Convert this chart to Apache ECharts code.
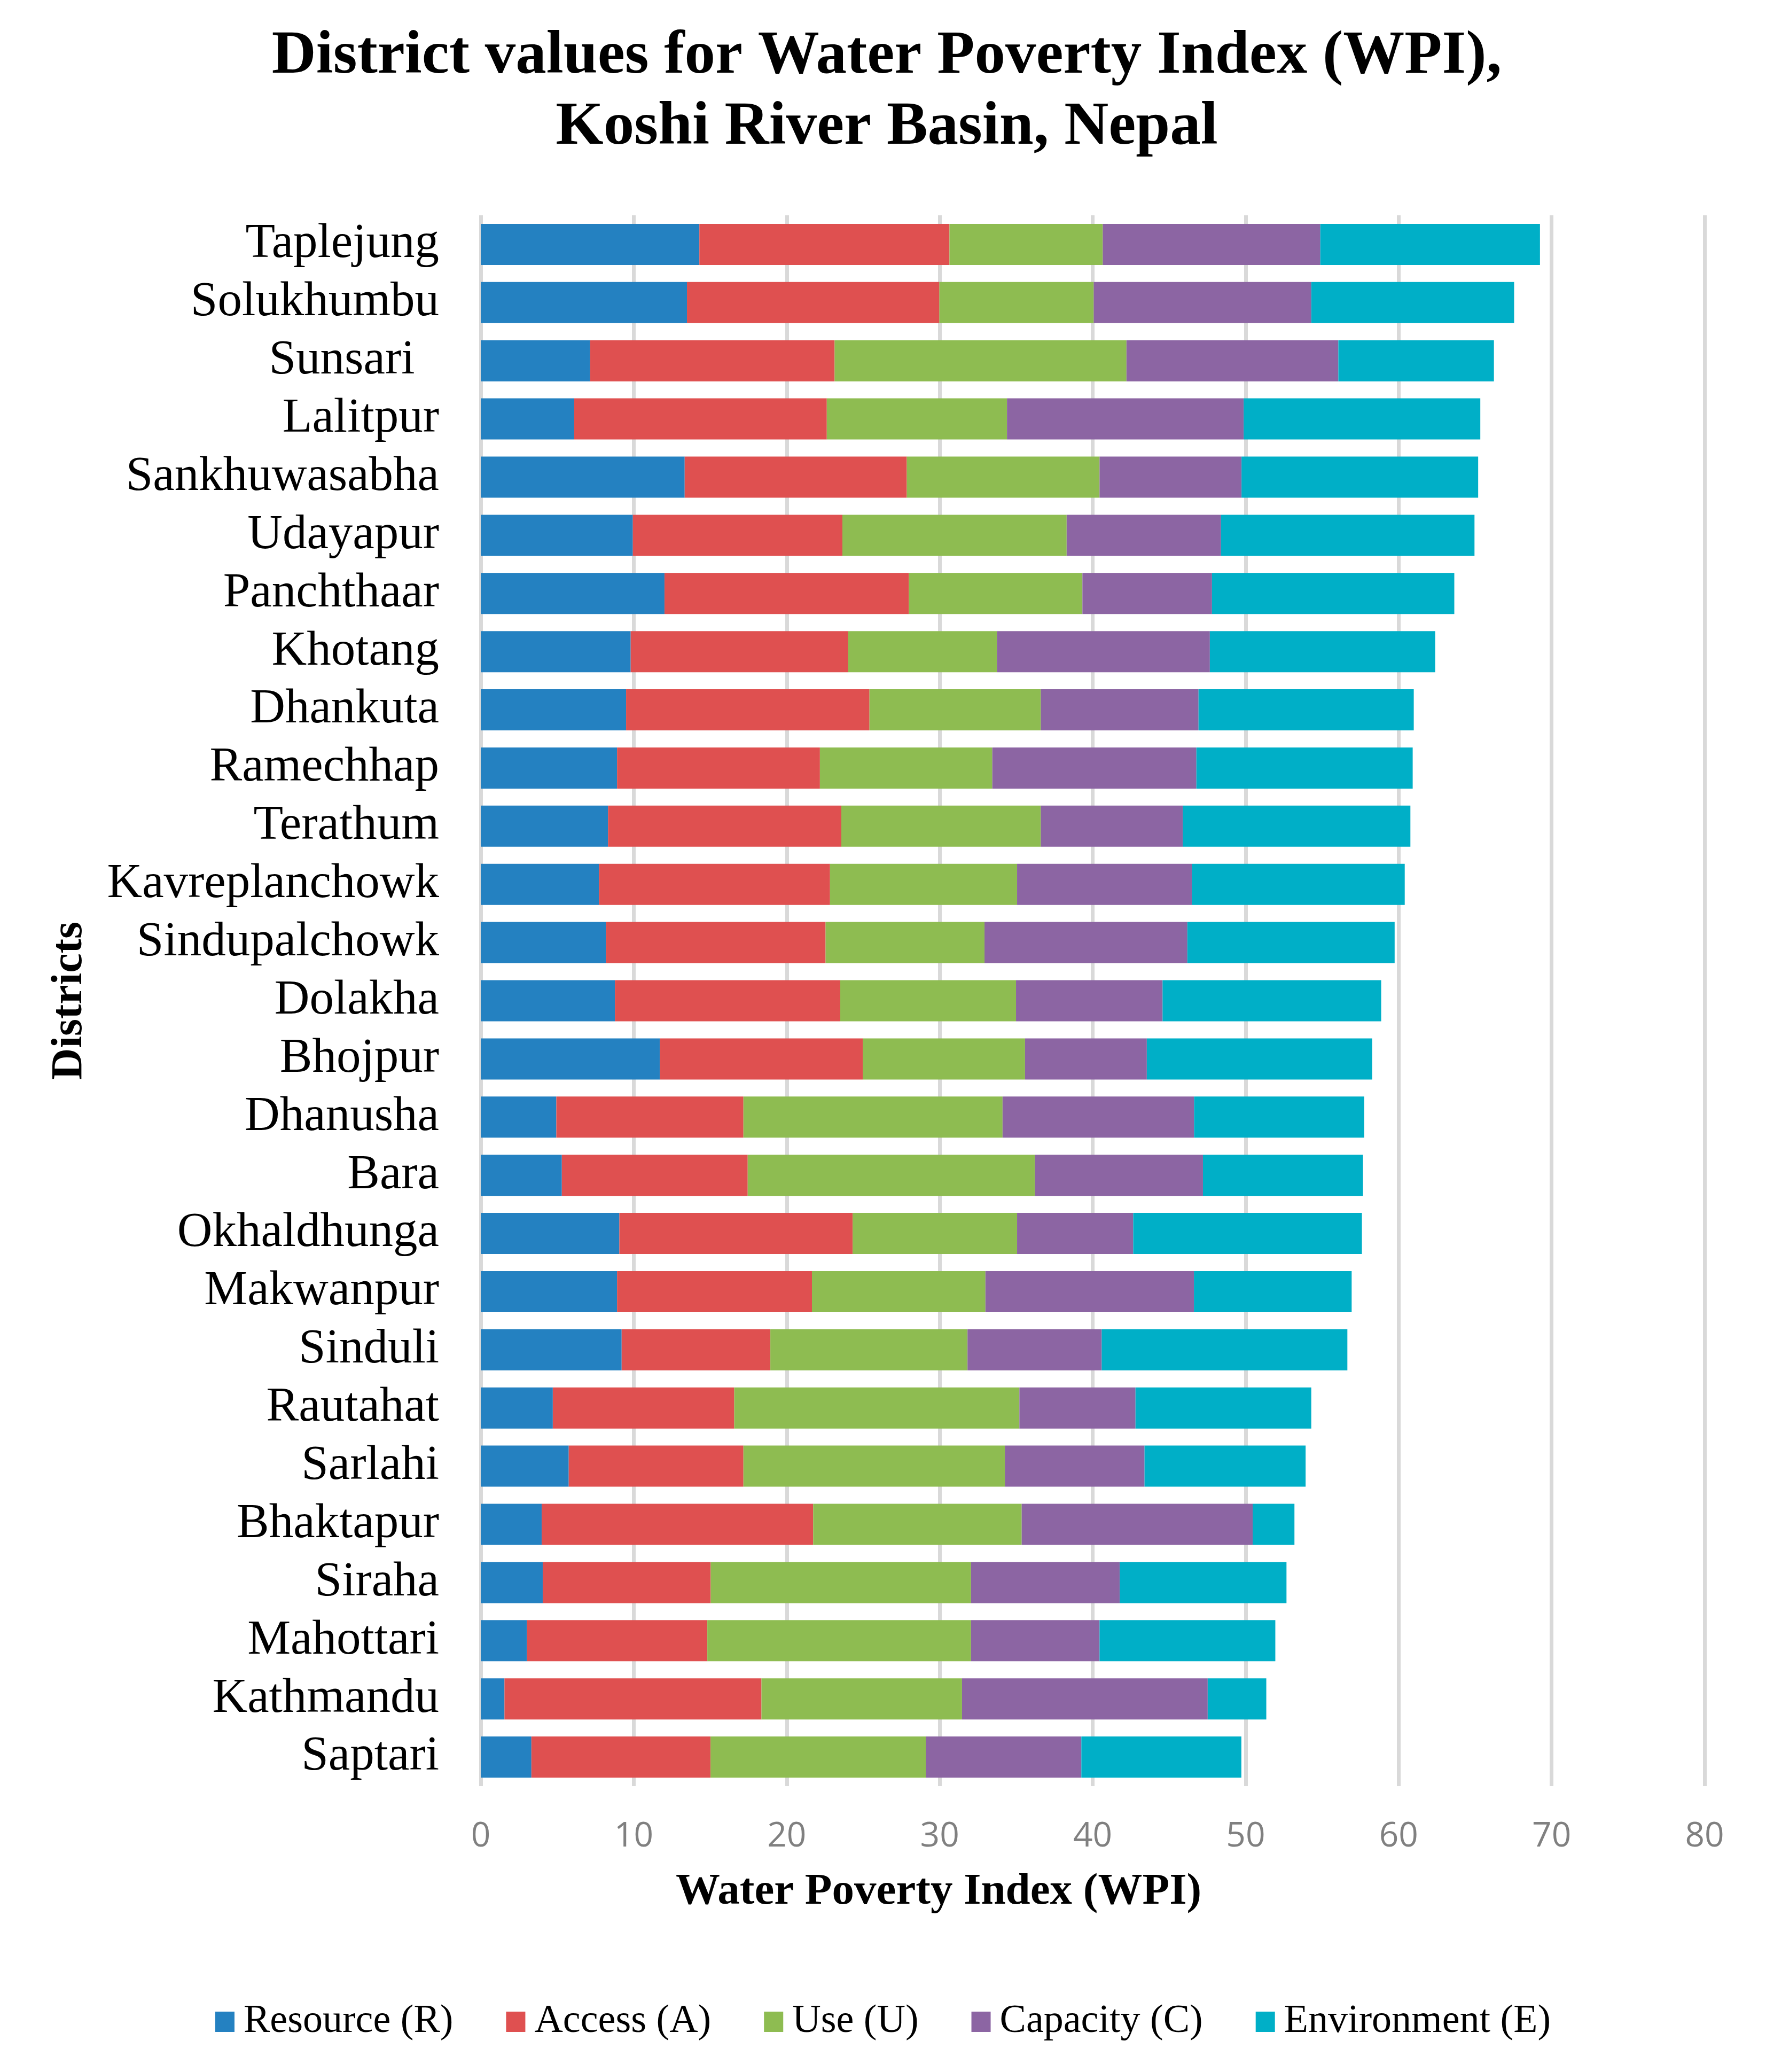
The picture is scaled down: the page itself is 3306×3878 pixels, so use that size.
<!DOCTYPE html>
<html>
<head>
<meta charset="utf-8">
<script src="https://cdn.jsdelivr.net/npm/echarts@6/dist/echarts.min.js"></script>
<style>
html,body{margin:0;padding:0;background:#fff;}
#chart{width:3306px;height:3878px;}
</style>
</head>
<body>
<div id="chart"></div>
<script>
const districts = ["Taplejung","Solukhumbu","Sunsari  ","Lalitpur","Sankhuwasabha","Udayapur","Panchthaar","Khotang","Dhankuta","Ramechhap","Terathum","Kavreplanchowk","Sindupalchowk","Dolakha","Bhojpur","Dhanusha","Bara","Okhaldhunga","Makwanpur","Sinduli","Rautahat","Sarlahi","Bhaktapur","Siraha","Mahottari","Kathmandu","Saptari"];
const resource = [14.29,13.48,7.15,6.11,13.33,9.94,12.01,9.80,9.50,8.91,8.32,7.73,8.18,8.77,11.71,4.94,5.30,9.06,8.91,9.21,4.71,5.75,3.98,4.05,3.02,1.55,3.31];
const access = [16.35,16.50,15.98,16.51,14.52,13.70,15.98,14.22,15.91,13.26,15.25,15.10,14.36,14.73,13.26,12.23,12.15,15.25,12.74,9.72,11.86,11.42,17.75,10.98,11.79,16.80,11.71];
const use = [10.02,10.09,19.08,11.78,12.60,14.66,11.34,9.72,11.20,11.27,13.04,12.23,10.39,11.49,10.61,16.94,18.78,10.75,11.34,12.89,18.64,17.09,13.63,17.02,17.24,13.11,14.07];
const capacity = [14.22,14.22,13.85,15.47,9.28,10.09,8.47,13.92,10.31,13.34,9.28,11.42,13.26,9.58,7.96,12.52,10.98,7.59,13.63,8.77,7.59,9.13,15.10,9.72,8.40,16.06,10.17];
const environment = [14.36,13.26,10.17,15.47,15.47,16.57,15.84,14.73,14.07,14.14,14.88,13.92,13.55,14.29,14.73,11.12,10.46,14.95,10.31,16.06,11.49,10.53,2.73,10.90,11.49,3.83,10.46];
const seriesNames = ["Resource (R)","Access (A)","Use (U)","Capacity (C)","Environment (E)"];
const colors = ["#2481C1","#DF5050","#8EBC51","#8C65A3","#00AFC7"];
const xTicks = [0,10,20,30,40,50,60,70,80];

const chart = echarts.init(document.getElementById('chart'), null, {renderer:'canvas'});
const serif = '"Liberation Serif","Times New Roman",serif';
const seriesData = [resource, access, use, capacity, environment];

chart.setOption({
  animation:false,
  backgroundColor:'#ffffff',
  title:[
    {
      text:'District values for Water Poverty Index (WPI),\nKoshi River Basin, Nepal',
      left:1655, top:35,
      textAlign:'center',
      textStyle:{fontFamily:serif, fontWeight:'bold', fontSize:115, lineHeight:133, color:'#000'}
    },
    {
      text:'Water Poverty Index (WPI)',
      left:1752, top:3487, textAlign:'center',
      textStyle:{fontFamily:serif, fontWeight:'bold', fontSize:83, lineHeight:100, color:'#000'}
    }
  ],
  legend:{
    data:seriesNames,
    left:'center', top:3742,
    itemWidth:36, itemHeight:38, itemGap:99,
    icon:'rect',
    textStyle:{fontFamily:serif, fontSize:74, color:'#000', padding:[0,0,0,12]}
  },
  grid:{left:900, right:115, top:403, bottom:535, containLabel:false},
  xAxis:{
    type:'value', min:0, max:80, interval:10,
    axisLine:{show:false}, axisTick:{show:false},
    splitLine:{show:true, lineStyle:{color:'#D9D9D9', width:7}},
    axisLabel:{fontFamily:'"Open Sans",sans-serif', fontSize:64, color:'#808080', margin:63,
      formatter:function(v){ return xTicks.indexOf(v)>=0 ? String(v) : ''; }}
  },
  yAxis:{
    type:'category', data:districts, inverse:true,
    axisLine:{show:false}, axisTick:{show:false},
    axisLabel:{fontFamily:serif, fontSize:91, color:'#000', margin:78, interval:0},
    name:'Districts', nameLocation:'middle', nameGap:728, nameRotate:90,
    nameTextStyle:{fontFamily:serif, fontWeight:'bold', fontSize:82, color:'#000'}
  },
  series: seriesNames.map(function(n,i){
    return {
      name:n, type:'bar', stack:'wpi', barWidth:77,
      itemStyle:{color:colors[i]},
      data:seriesData[i]
    };
  })
});
</script>
</body>
</html>
